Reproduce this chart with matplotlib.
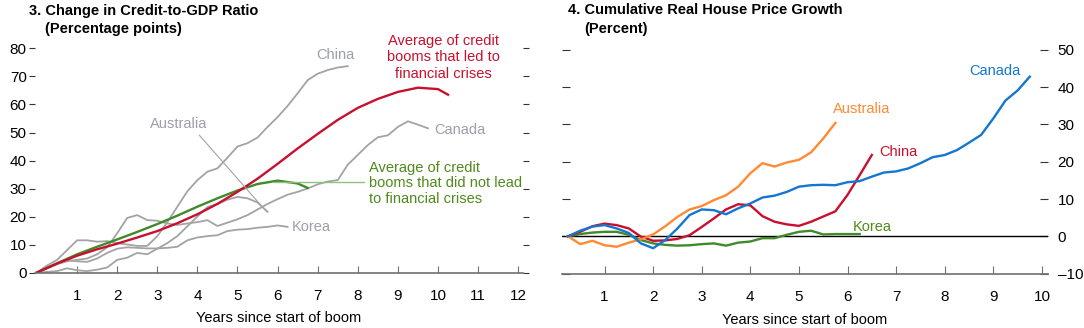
import matplotlib
matplotlib.use('Agg')
import matplotlib.pyplot as plt
import numpy as np

plt.rcParams['font.family'] = ['Liberation Sans', 'DejaVu Sans']
plt.rcParams['font.size'] = 10.5

# ---- panel 3: change in credit-to-GDP ratio (quarterly, from start of boom)
china_credit = [0, 2.5, 4.5, 8, 11.5, 11.5, 11, 11.2, 10.5, 10, 9.5, 9.5, 13, 18, 23.5, 29,
                33, 36, 37.2, 41, 45, 46.2, 48.2, 52, 55.5, 59.5, 64, 68.7, 71, 72.3, 73.2, 73.7]
australia_credit = [0, 0.2, 0.5, 1.5, 0.8, 0.5, 1, 1.8, 4.5, 5.3, 7, 6.5, 8.5, 10.5, 13, 16.5,
                    20, 23.4, 24.5, 26, 27, 26.5, 25, 21.7]
canada_credit = [0, 1.5, 3, 4, 4.5, 5, 6.5, 9, 14, 19.5, 20.5, 18.7, 18.5, 17.5, 17, 17.5,
                 18, 18.7, 16.6, 17.8, 19, 20.5, 22.5, 24.5, 26.2, 27.8, 28.8, 30, 31.5, 32.5,
                 33, 38.5, 42, 45.5, 48.3, 49, 52, 54, 52.8, 51.5]
korea_credit = [0, 1.5, 3, 4.5, 4, 3.8, 5, 7, 8.5, 9, 8.8, 8.6, 8.6, 8.8, 9.2, 11.5,
                12.5, 13, 13.3, 14.8, 15.3, 15.5, 16, 16.3, 16.8, 16.3]
# averages, half-yearly
avg_years_crisis = [0, 0.5, 1, 1.5, 2, 2.5, 3, 3.5, 4, 4.5, 5, 5.5, 6, 6.5, 7, 7.5,
                    8, 8.5, 9, 9.5, 10, 10.25]
avg_crisis = [0, 3.2, 6, 8.3, 10.3, 12.5, 14.8, 17.6, 20.8, 24.5, 28.8, 33.5, 38.8, 44.3,
              49.5, 54.5, 58.8, 62, 64.5, 66, 65.5, 63.5]
avg_years_nocrisis = [0, 0.5, 1, 1.5, 2, 2.5, 3, 3.5, 4, 4.5, 5, 5.5, 6, 6.5, 6.75]
avg_nocrisis = [0, 3.3, 6.5, 9.2, 11.8, 14.5, 17.3, 20.3, 23.5, 26.5, 29.3, 31.6, 32.8, 31.8, 30.2]

# ---- panel 4: cumulative real house price growth (quarterly, first point at 0.25)
canada_house = [0, 1.5, 2.6, 3.0, 2.1, 0.9, -1.9, -3.2, -1.0, 2.1, 5.7, 7.2, 7.0, 5.9, 7.5,
                8.8, 10.4, 10.9, 11.9, 13.3, 13.7, 13.8, 13.7, 14.5, 14.8, 16.0, 17.1, 17.4,
                18.2, 19.6, 21.2, 21.8, 23.1, 25.1, 27.2, 31.6, 36.4, 39.1, 42.8]
australia_house = [0, -2.1, -1.2, -2.4, -2.8, -1.7, -0.8, 0.5, 2.7, 5.2, 7.2, 8.1, 9.7, 11.0,
                   13.3, 16.9, 19.6, 18.7, 19.8, 20.5, 22.5, 26.2, 30.4]
china_house = [0, 1.2, 2.7, 3.4, 3.0, 2.1, -0.1, -1.2, -1.1, -0.7, 0.3, 2.5, 4.8, 7.2, 8.6,
               8.3, 5.4, 3.9, 3.2, 2.8, 3.9, 5.3, 6.7, 11.1, 16.4, 21.8]
korea_house = [0, 0.6, 1.0, 1.2, 1.2, 0.4, -1.0, -1.9, -2.3, -2.5, -2.4, -2.1, -1.9, -2.5,
               -1.7, -1.4, -0.5, -0.5, 0.4, 1.2, 1.5, 0.5, 0.6, 0.6, 0.6]

RED = '#c8102e'
GREEN = '#3f8a2a'
GREEN_TXT = '#4e8a1c'
GRAY = '#a3a3a3'
GRAY_TXT = '#9aa0a8'
BLUE = '#1576d0'
ORANGE = '#ff8a33'
AXC = '#707070'
TICK_FS = 11

W, H = 1084, 328
fig = plt.figure(figsize=(W / 100, H / 100), dpi=100)


def q(n, start=0.0):
    return start + 0.25 * np.arange(n)


# ================= left panel =================
ax = fig.add_axes([35 / W, (H - 272.5) / H, 488 / W, 224 / H])
for vals in (china_credit, australia_credit, canada_credit, korea_credit):
    ax.plot(q(len(vals)), vals, color=GRAY, lw=1.3, solid_joinstyle='round')
ax.plot(avg_years_nocrisis, avg_nocrisis, color=GREEN, lw=1.7)
ax.plot(avg_years_crisis, avg_crisis, color=RED, lw=1.7)

ax.set_xlim(-0.05, 12.12)
ax.set_ylim(0, 80)
for s in ('top', 'left', 'right'):
    ax.spines[s].set_visible(False)
ax.spines['bottom'].set_color(AXC)
ax.spines['bottom'].set_linewidth(1.2)
ax.set_xticks(range(1, 13))
ax.set_yticks(range(0, 81, 10))
ax.tick_params(axis='x', direction='in', length=5, color=AXC, pad=12, labelsize=TICK_FS)
ax.tick_params(axis='y', direction='out', length=4, color='#333333', pad=2,
               right=True, left=True, labelsize=TICK_FS)
ax.set_xlabel('Years since start of boom', labelpad=6)

# labels
ax.text(7.45, 77.6, 'China', color=GRAY_TXT, ha='center', va='center')
ax.text(3.54, 52.9, 'Australia', color=GRAY_TXT, ha='center', va='center')
ax.plot([4.05, 5.72], [49, 21.8], color=GRAY, lw=0.8)
ax.text(9.9, 50.8, 'Canada', color=GRAY_TXT, ha='left', va='center')
ax.text(6.35, 16.3, 'Korea', color=GRAY_TXT, ha='left', va='center')
ax.text(10.13, 76.8, 'Average of credit\nbooms that led to\nfinancial crises', color=RED,
        ha='center', va='center', linespacing=1.2, clip_on=False)
ax.plot([5.9, 8.15], [32.5, 32.5], color='#8fc27e', lw=1.0)
ax.text(8.28, 31.8, 'Average of credit\nbooms that did not lead\nto financial crises',
        color=GREEN_TXT, ha='left', va='center', linespacing=1.15, clip_on=False)

fig.text(29 / W, 1 - 10.5 / H, '3. Change in Credit-to-GDP Ratio', fontweight='bold',
         ha='left', va='center')
fig.text(45 / W, 1 - 29.5 / H, '(Percentage points)', fontweight='bold',
         ha='left', va='center')

# ================= right panel =================
bx = fig.add_axes([562 / W, (H - 273.6) / H, 486 / W, 223.8 / H])
bx.axhline(0, color='black', lw=1.0)
bx.plot(q(len(korea_house), 0.25), korea_house, color=GREEN, lw=1.7)
bx.plot(q(len(china_house), 0.25), china_house, color=RED, lw=1.7)
bx.plot(q(len(australia_house), 0.25), australia_house, color=ORANGE, lw=1.7)
bx.plot(q(len(canada_house), 0.25), canada_house, color=BLUE, lw=1.7)

bx.set_xlim(0.125, 10.125)
bx.set_ylim(-10, 50)
for s in ('top', 'left', 'right'):
    bx.spines[s].set_visible(False)
bx.spines['bottom'].set_color(AXC)
bx.spines['bottom'].set_linewidth(1.2)
bx.set_xticks(range(1, 11))
bx.set_yticks(range(-10, 51, 10))
bx.yaxis.tick_right()
bx.tick_params(axis='x', direction='in', length=6, color=AXC, pad=12, labelsize=TICK_FS)
bx.tick_params(axis='y', direction='in', length=6, color='#333333', pad=7,
               left=True, right=True, labelleft=False, labelright=True, labelsize=TICK_FS)
bx.set_xticklabels([str(i) for i in range(1, 11)])
bx.set_yticklabels(['\u201310' if v < 0 else str(v) for v in range(-10, 51, 10)])
bx.set_xlabel('Years since start of boom', labelpad=6)

bx.text(9.55, 44.4, 'Canada', color=BLUE, ha='right', va='center')
bx.text(5.70, 34.0, 'Australia', color=ORANGE, ha='left', va='center')
bx.text(6.65, 22.7, 'China', color=RED, ha='left', va='center')
bx.text(6.11, 2.6, 'Korea', color=GREEN_TXT, ha='left', va='center')

fig.text(568 / W, 1 - 10.5 / H, '4. Cumulative Real House Price Growth', fontweight='bold',
         ha='left', va='center')
fig.text(584 / W, 1 - 29.5 / H, '(Percent)', fontweight='bold', ha='left', va='center')

fig.savefig('out.png', dpi=100)
